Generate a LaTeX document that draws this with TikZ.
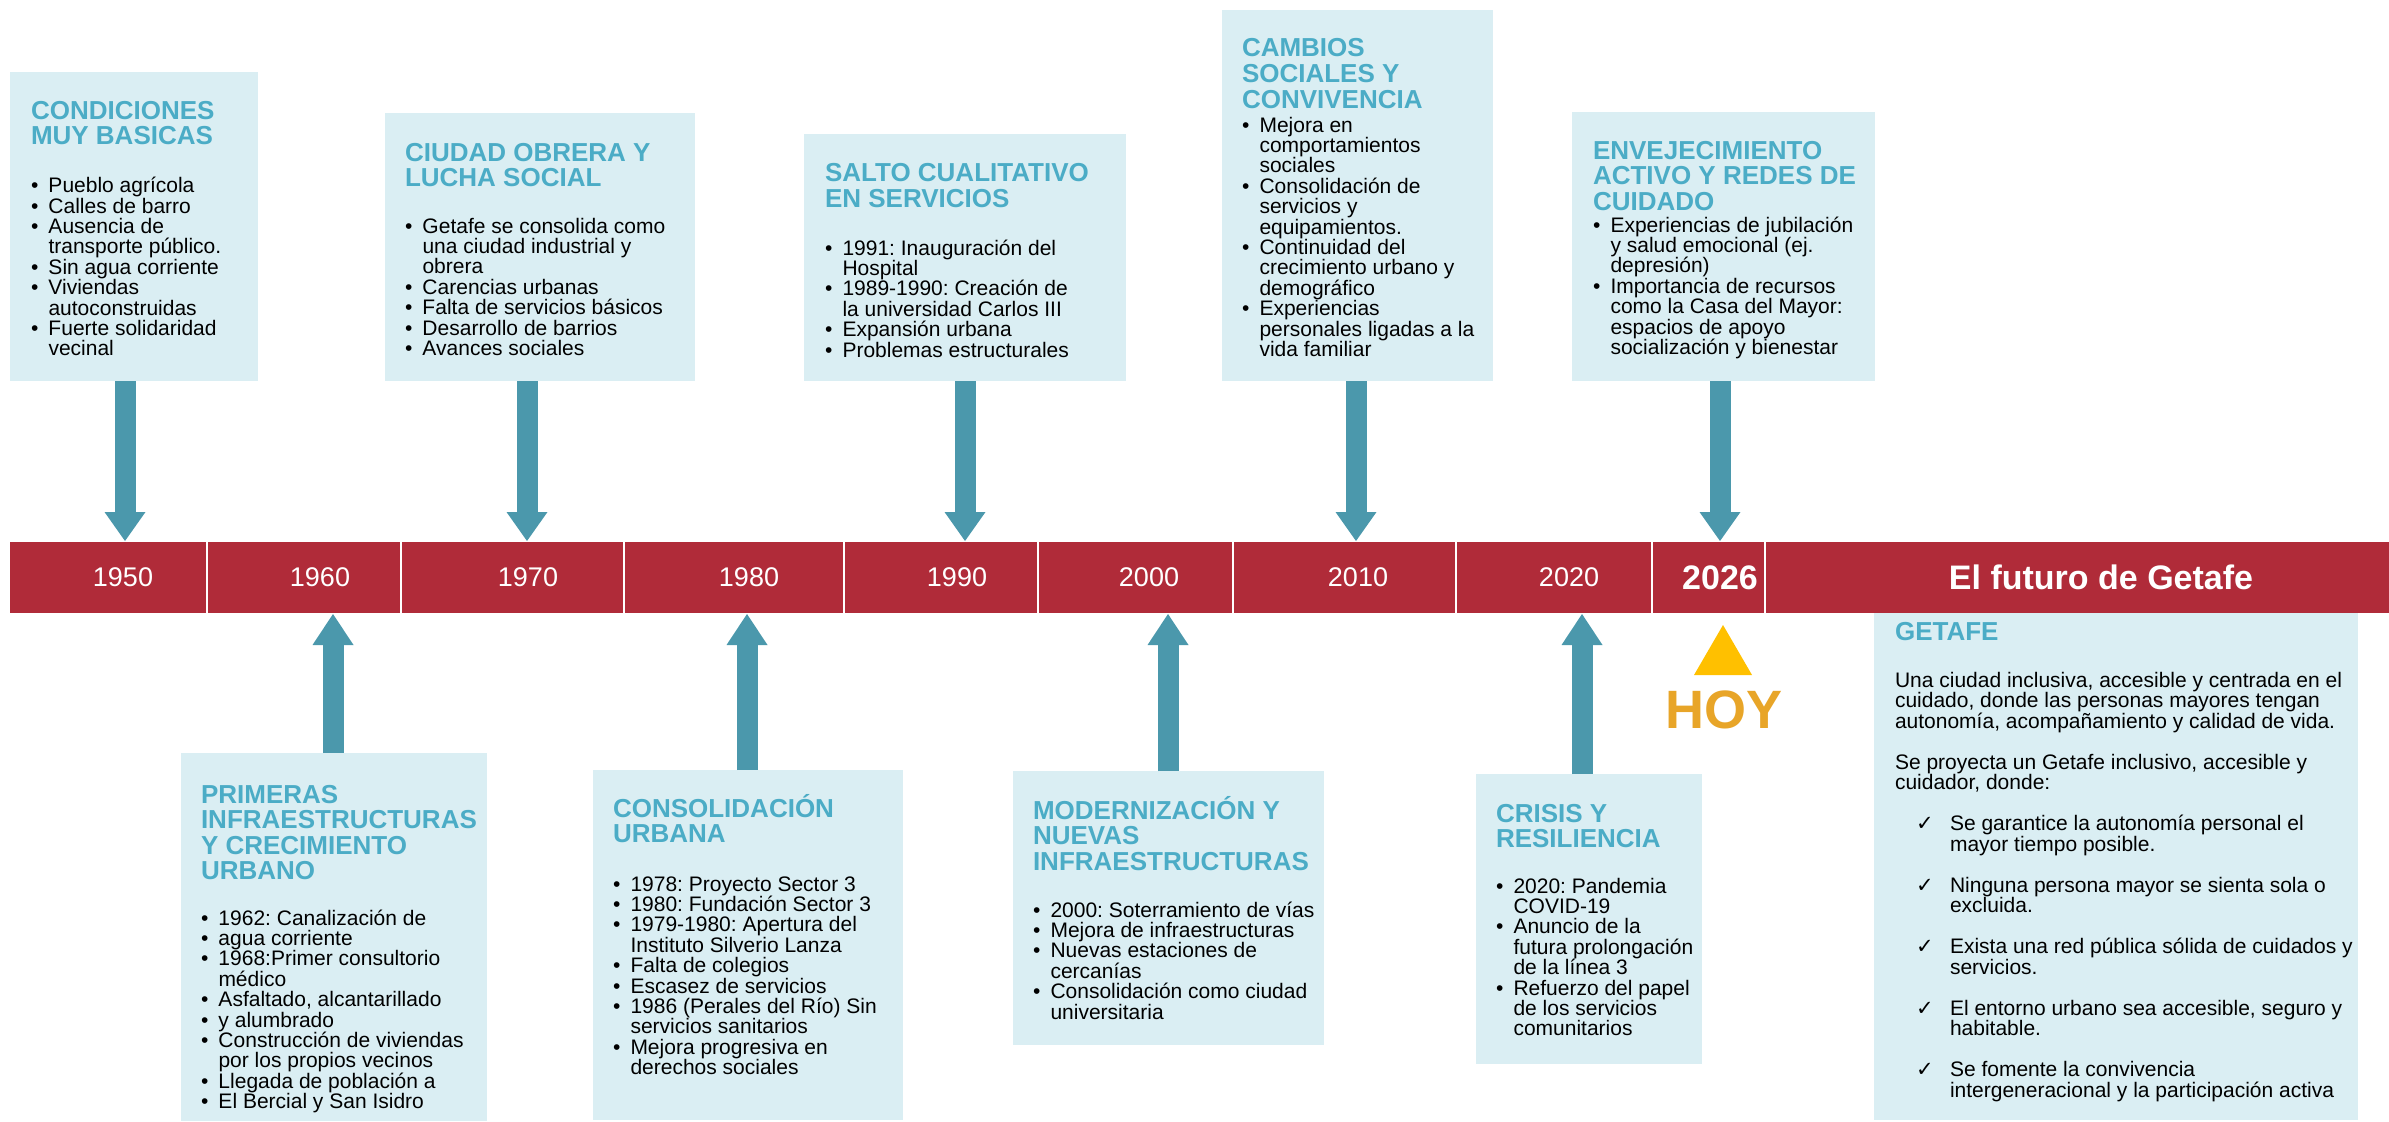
\documentclass[tikz,border=0pt]{standalone}
\usepackage{fontspec}
\setmainfont{Liberation Sans}
\newfontfamily\symfont{DejaVu Sans}
\usetikzlibrary{calc}
\definecolor{barred}{RGB}{176,43,57}
\definecolor{boxfill}{RGB}{218,238,243}
\definecolor{titleblue}{RGB}{75,172,198}
\definecolor{arrowteal}{RGB}{75,152,172}
\definecolor{hoygold}{RGB}{232,165,40}
\definecolor{hoytri}{RGB}{255,192,0}
\newlength\bindent \setlength\bindent{17.5pt}
\newcommand\bodyset{\fontsize{21}{20.4}\selectfont\frenchspacing\lineskiplimit=-100pt\lineskip=0pt\parindent=0pt\parskip=0pt}
\newcommand\titleset{\fontsize{26}{25.6}\selectfont\bfseries\lineskiplimit=-100pt\lineskip=0pt\parindent=0pt}
\newcommand\bitem[1]{\par\noindent\hangindent=\bindent\hangafter=1\relax\makebox[\bindent][l]{•}#1}
\newcommand\citem[1]{\par\noindent\hangindent=55pt\hangafter=1\relax\hspace*{21pt}\makebox[34pt][l]{\symfont\fontsize{21}{20}\selectfont ✓}#1\par}
\newcommand\headdown[1]{\fill[arrowteal] ([shift={(-20.5pt,29pt)}]#1) -- ([shift={(20.5pt,29pt)}]#1) -- (#1) -- cycle;}
\newcommand\headup[1]{\fill[arrowteal] ([shift={(-20.5pt,-31pt)}]#1) -- ([shift={(20.5pt,-31pt)}]#1) -- (#1) -- cycle;}
\tikzset{
  box/.style={fill=boxfill, draw=none, anchor=north west, inner sep=0pt, outer sep=0pt},
  txt/.style={anchor=base west, inner sep=0pt, outer sep=0pt},
  ttl/.style={anchor=base west, inner sep=0pt, outer sep=0pt, text=titleblue},
  yearlbl/.style={text=white, font=\fontsize{27}{27}\selectfont, inner sep=0pt},
  bigyear/.style={text=white, font=\fontsize{34}{34}\selectfont\bfseries, inner sep=0pt},
  shaft/.style={draw=arrowteal, line width=21pt},
  divider/.style={draw=white, line width=2.5pt},
}
\begin{document}
\begin{tikzpicture}[x=1pt,y=-1pt]
\useasboundingbox (0,0) rectangle (2389,1121);
\fill[white] (0,0) rectangle (2389,1121);

% timeline bar
\node[fill=barred, anchor=north west, minimum width=2379pt, minimum height=71pt, inner sep=0pt] (bar) at (10,542) {};
\foreach \x in {207,401,624,844,1038,1233,1456,1652,1765}
  \draw[divider] (\x,542) -- (\x,613);
\node[yearlbl] (y1950) at (123,577.5) {1950};
\node[yearlbl] (y1960) at (320,577.5) {1960};
\node[yearlbl] (y1970) at (528,577.5) {1970};
\node[yearlbl] (y1980) at (749,577.5) {1980};
\node[yearlbl] (y1990) at (957,577.5) {1990};
\node[yearlbl] (y2000) at (1149,577.5) {2000};
\node[yearlbl] (y2010) at (1358,577.5) {2010};
\node[yearlbl] (y2020) at (1569,577.5) {2020};
\node[bigyear] (y2026) at (1720,577.5) {2026};
\node[bigyear] (yfut) at (2101,577.5) {El futuro de Getafe};

% boxes
\node[box, minimum width=248pt, minimum height=309pt] (b1) at (10,72) {};
\node[box, minimum width=310pt, minimum height=268pt] (b2) at (385,113) {};
\node[box, minimum width=322pt, minimum height=247pt] (b3) at (804,134) {};
\node[box, minimum width=271pt, minimum height=371pt] (b4) at (1222,10) {};
\node[box, minimum width=303pt, minimum height=269pt] (b5) at (1572,112) {};
\node[box, minimum width=306pt, minimum height=368pt] (b6) at (181,753) {};
\node[box, minimum width=310pt, minimum height=350pt] (b7) at (593,770) {};
\node[box, minimum width=311pt, minimum height=274pt] (b8) at (1013,771) {};
\node[box, minimum width=226pt, minimum height=290pt] (b9) at (1476,774) {};
\node[box, minimum width=484pt, minimum height=507pt] (b10) at (1874,613) {};

% arrows
\coordinate (t1) at (125,541);
\coordinate (t2) at (527,541);
\coordinate (t3) at (965,541);
\coordinate (t4) at (1356,541);
\coordinate (t5) at (1720,541);
\coordinate (u1) at (333,614);
\coordinate (u2) at (747,614);
\coordinate (u3) at (1168,614);
\coordinate (u4) at (1582,614);
\foreach \b/\t in {b1/t1,b2/t2,b3/t3,b4/t4,b5/t5}{
  \draw[shaft] (\b.south -| \t) -- ([yshift=28pt]\t);
  \headdown{\t}
}
\foreach \b/\t in {b6/u1,b7/u2,b8/u3,b9/u4}{
  \draw[shaft] (\b.north -| \t) -- ([yshift=-30pt]\t);
  \headup{\t}
}

% HOY
\fill[hoytri] (1694,675) -- (1752,675) -- (1723,625) -- cycle;
\node[anchor=base, inner sep=0pt, text=hoygold, font=\fontsize{54}{54}\selectfont\bfseries] (hoy) at (1724,728) {HOY};

% texts top
\node[ttl] (h1) at (31,119.3) {\parbox[t]{400pt}{\titleset CONDICIONES\\MUY BASICAS}};
\node[txt] (l1) at (31,192.7) {\parbox[t]{400pt}{\bodyset
  \bitem{Pueblo agrícola}\bitem{Calles de barro}\bitem{Ausencia de\\transporte público.}
  \bitem{Sin agua corriente}\bitem{Viviendas\\autoconstruidas}\bitem{Fuerte solidaridad\\vecinal}}};

\node[ttl] (h2) at (405,161) {\parbox[t]{400pt}{\titleset CIUDAD OBRERA Y\\LUCHA SOCIAL}};
\node[txt] (l2) at (405,233) {\parbox[t]{400pt}{\bodyset
  \bitem{Getafe se consolida como\\una ciudad industrial y\\obrera}\bitem{Carencias urbanas}
  \bitem{Falta de servicios básicos}\bitem{Desarrollo de barrios}\bitem{Avances sociales}}};

\node[ttl] (h3) at (825,181.7) {\parbox[t]{400pt}{\titleset SALTO CUALITATIVO\\EN SERVICIOS}};
\node[txt] (l3) at (825,255) {\parbox[t]{400pt}{\bodyset
  \bitem{1991: Inauguración del\\Hospital}\bitem{1989-1990: Creación de\\la universidad Carlos III}
  \bitem{Expansión urbana}\bitem{Problemas estructurales}}};

\node[ttl] (h4) at (1242,57) {\parbox[t]{400pt}{\titleset CAMBIOS\\SOCIALES Y\\CONVIVENCIA}};
\node[txt] (l4) at (1242,132) {\parbox[t]{400pt}{\bodyset
  \bitem{Mejora en\\comportamientos\\sociales}\bitem{Consolidación de\\servicios y\\equipamientos.}
  \bitem{Continuidad del\\crecimiento urbano y\\demográfico}\bitem{Experiencias\\personales ligadas a la\\vida familiar}}};

\node[ttl] (h5) at (1593,159) {\parbox[t]{400pt}{\titleset ENVEJECIMIENTO\\ACTIVO Y REDES DE\\CUIDADO}};
\node[txt] (l5) at (1593,232) {\parbox[t]{400pt}{\bodyset
  \bitem{Experiencias de jubilación\\y salud emocional (ej.\\depresión)}
  \bitem{Importancia de recursos\\como la Casa del Mayor:\\espacios de apoyo\\socialización y bienestar}}};

% texts bottom
\node[ttl] (h6) at (201,803) {\parbox[t]{400pt}{\titleset PRIMERAS\\INFRAESTRUCTURAS\\Y CRECIMIENTO\\URBANO}};
\node[txt] (l6) at (201,925) {\parbox[t]{400pt}{\bodyset
  \bitem{1962: Canalización de}\bitem{agua corriente}\bitem{1968:Primer consultorio\\médico}
  \bitem{Asfaltado, alcantarillado}\bitem{y alumbrado}\bitem{Construcción de viviendas\\por los propios vecinos}
  \bitem{Llegada de población a}\bitem{El Bercial y San Isidro}}};

\node[ttl] (h7) at (613,817) {\parbox[t]{400pt}{\titleset CONSOLIDACIÓN\\URBANA}};
\node[txt] (l7) at (613,891) {\parbox[t]{400pt}{\bodyset
  \bitem{1978: Proyecto Sector 3}\bitem{1980: Fundación Sector 3}\bitem{1979-1980: Apertura del\\Instituto Silverio Lanza}
  \bitem{Falta de colegios}\bitem{Escasez de servicios}\bitem{1986 (Perales del Río) Sin\\servicios sanitarios}
  \bitem{Mejora progresiva en\\derechos sociales}}};

\node[ttl] (h8) at (1033,819) {\parbox[t]{400pt}{\titleset MODERNIZACIÓN Y\\NUEVAS\\INFRAESTRUCTURAS}};
\node[txt] (l8) at (1033,917) {\parbox[t]{400pt}{\bodyset
  \bitem{2000: Soterramiento de vías}\bitem{Mejora de infraestructuras}
  \bitem{Nuevas estaciones de\\cercanías}\bitem{Consolidación como ciudad\\universitaria}}};

\node[ttl] (h9) at (1496,822) {\parbox[t]{400pt}{\titleset CRISIS Y\\RESILIENCIA}};
\node[txt] (l9) at (1496,893) {\parbox[t]{400pt}{\bodyset
  \bitem{2020: Pandemia\\COVID-19}\bitem{Anuncio de la\\futura prolongación\\de la línea 3}
  \bitem{Refuerzo del papel\\de los servicios\\comunitarios}}};

\node[ttl] (h10) at (1895,640) {\parbox[t]{400pt}{\titleset GETAFE}};
\node[txt] (l10) at (1895,687) {\parbox[t]{520pt}{\bodyset\fontsize{21}{20.5}\selectfont
  Una ciudad inclusiva, accesible y centrada en el\\cuidado, donde las personas mayores tengan\\autonomía, acompañamiento y calidad de vida.\par
  \vskip20.5pt
  Se proyecta un Getafe inclusivo, accesible y\\cuidador, donde:\par
  \vskip20.5pt
  \citem{Se garantice la autonomía personal el\\mayor tiempo posible.}\vskip20.5pt
  \citem{Ninguna persona mayor se sienta sola o\\excluida.}\vskip20.5pt
  \citem{Exista una red pública sólida de cuidados y\\servicios.}\vskip20.5pt
  \citem{El entorno urbano sea accesible, seguro y\\habitable.}\vskip20.5pt
  \citem{Se fomente la convivencia\\intergeneracional y la participación activa}}};
\end{tikzpicture}
\end{document}
